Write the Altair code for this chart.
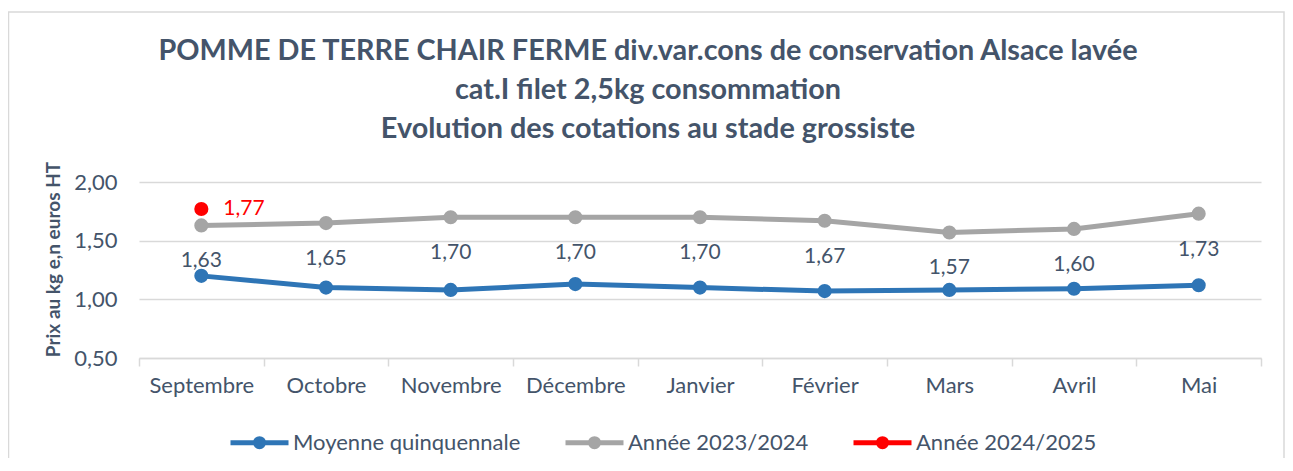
import altair as alt
import pandas as pd

months = ["Septembre", "Octobre", "Novembre", "Décembre", "Janvier",
          "Février", "Mars", "Avril", "Mai"]
moyenne_quinquennale = [1.20, 1.10, 1.08, 1.13, 1.10, 1.07, 1.08, 1.09, 1.12]
annee_2023_2024 = [1.63, 1.65, 1.70, 1.70, 1.70, 1.67, 1.57, 1.60, 1.73]
annee_2024_2025_months = ["Septembre"]
annee_2024_2025 = [1.77]

series_names = ["Moyenne quinquennale", "Année 2023/2024", "Année 2024/2025"]
series_colors = ["#2E75B6", "#A5A5A5", "#FF0000"]

title_lines = [
    "POMME DE TERRE CHAIR FERME div.var.cons de conservation Alsace lavée",
    "cat.I filet 2,5kg consommation",
    "Evolution des cotations au stade grossiste",
]
y_title = "Prix au kg e,n euros HT"

rows = []
for m, v in zip(months, moyenne_quinquennale):
    rows.append({"mois": m, "serie": series_names[0], "valeur": v})
for m, v in zip(months, annee_2023_2024):
    rows.append({"mois": m, "serie": series_names[1], "valeur": v})
for m, v in zip(annee_2024_2025_months, annee_2024_2025):
    rows.append({"mois": m, "serie": series_names[2], "valeur": v})
df = pd.DataFrame(rows)
df["label"] = df["valeur"].map(lambda v: f"{v:.2f}".replace(".", ","))

FONT = "Lato"
TXT = "#44546A"
GRID = "#D9D9D9"
FS = 21

x_enc = alt.X(
    "mois:N", sort=months,
    scale=alt.Scale(type="band", paddingInner=0, paddingOuter=0),
    axis=alt.Axis(title=None, tickBand="extent", grid=False, labelAngle=0,
                  domainColor=GRID, domainWidth=1.5, tickColor=GRID,
                  tickWidth=1.5, tickSize=8, labelFontSize=22, labelFont=FONT,
                  labelColor=TXT, labelPadding=9),
)
y_enc = alt.Y(
    "valeur:Q",
    scale=alt.Scale(domain=[0.5, 2.0], nice=False, zero=False),
    axis=alt.Axis(values=[0.5, 1.0, 1.5, 2.0],
                  labelExpr="replace(format(datum.value, '.2f'), '.', ',')",
                  grid=True, gridColor=GRID, gridWidth=1.5, domain=False,
                  ticks=False, labelFontSize=22, labelFont=FONT, labelColor=TXT,
                  labelPadding=22, title=y_title, titleFontSize=19,
                  titleFont=FONT, titleFontWeight="bold", titleColor=TXT,
                  titlePadding=10, titleY=77),
)

legend = alt.Legend(
    orient="none", legendX=89, legendY=229, direction="horizontal", title=None,
    symbolType="M-1,0L1,0M0.14,0A0.14,0.14,0,1,1,-0.14,0A0.14,0.14,0,1,1,0.14,0Z",
    symbolSize=3364, symbolStrokeWidth=5, labelFontSize=22, labelFont=FONT,
    labelColor=TXT, columnPadding=34, labelOffset=2, symbolOpacity=1,
    labelLimit=500,
)
color_enc = alt.Color("serie:N", scale=alt.Scale(domain=series_names, range=series_colors),
                      legend=legend)

base = alt.Chart(df).encode(x=x_enc, y=y_enc)

lines = base.mark_line(strokeWidth=5).encode(color=color_enc)
points = base.mark_circle(size=200, opacity=1).encode(color=color_enc)

grey_labels = base.transform_filter(
    alt.datum.serie == series_names[1]
).mark_text(dy=36, fontSize=FS, font=FONT, color=TXT).encode(text="label:N")

red_labels = base.transform_filter(
    alt.datum.serie == series_names[2]
).mark_text(dx=22, align="left", baseline="middle", fontSize=FS, font=FONT,
            color="#FF0000").encode(text="label:N")

frame = alt.Chart(pd.DataFrame({"a": [0]})).mark_rect(
    fill=None, stroke=GRID, strokeWidth=1.5
).encode(x=alt.value(-130.5), x2=alt.value(1145), y=alt.value(-170), y2=alt.value(280))

chart = alt.layer(frame, lines, points, grey_labels, red_labels).properties(
    width=1122, height=176,
    autosize=alt.AutoSizeParams(type="none"),
    padding={"left": 131, "top": 174, "right": 24, "bottom": 100},
    title=alt.TitleParams(text=title_lines, fontSize=28.8, fontWeight="bold",
                          font=FONT, color=TXT, lineHeight=39, anchor="middle",
                          frame="group", dx=-52, offset=-133),
).configure(background="white", view=alt.ViewConfig(strokeWidth=0))

chart.save("out.html", embed_options={"renderer": "svg", "actions": False})
